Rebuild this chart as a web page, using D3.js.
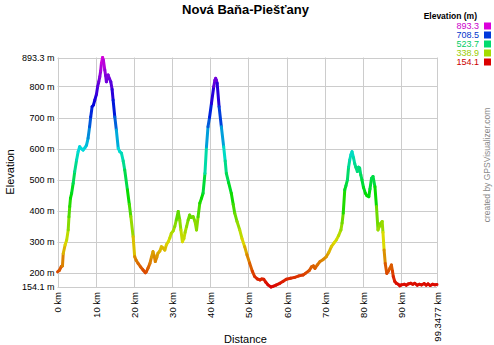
<!DOCTYPE html>
<html><head><meta charset="utf-8">
<script src="https://cdn.jsdelivr.net/npm/d3@7"></script>
<style>
body{margin:0;background:#fff;}
svg{display:block;font-family:"Liberation Sans",Arial,sans-serif;}
</style></head>
<body><svg id="c" width="494" height="345"></svg>
<script>
const title = "Nová Baňa-Piešťany";
const distKm = [0,0.5,1.0,1.3,1.5,2.0,2.4,2.8,3.0,3.2,3.4,3.7,4.1,4.5,5.0,5.4,5.8,6.2,6.7,7.2,7.6,8.0,8.4,8.7,9.06,9.4,9.76,10.2,10.5,10.8,11.07,11.3,11.5,11.8,12.0,12.38,12.6,12.8,13.0,13.25,13.6,13.95,14.3,14.56,15.0,15.4,15.9,16.3,16.75,17.2,17.6,18.3,18.8,19.2,19.8,20.2,20.6,21.1,21.8,22.4,23.0,23.3,23.7,24.2,24.6,25.0,25.3,25.6,26.0,26.3,26.8,27.2,27.6,28.1,28.5,29.0,29.4,29.8,30.3,30.7,31.1,31.6,32.0,32.3,32.7,33.1,33.4,33.8,34.2,34.6,35.0,35.5,36.0,36.4,36.8,37.25,37.7,38.1,38.6,39.0,39.4,39.8,40.3,40.9,41.2,41.4,41.6,41.8,42.3,42.9,43.5,43.9,44.2,44.8,45.5,46.0,46.4,47.0,47.7,48.3,49.0,49.6,50.3,51.0,51.6,52.3,53.0,53.5,54.0,54.5,55.1,55.9,56.4,57.2,58.2,59.0,59.9,61.0,62.1,63.2,64.3,64.9,65.9,66.5,67.0,67.4,68.0,68.7,69.5,70.4,71.0,71.7,72.4,73.0,73.6,74.2,74.5,74.8,75.2,75.5,75.9,76.2,76.5,76.8,77.1,77.5,77.8,78.1,78.5,78.8,79.1,79.4,79.7,80.1,80.6,81.0,81.5,81.8,82.2,82.6,83.1,83.5,83.9,84.3,84.6,85.0,85.2,85.5,85.8,86.2,86.6,87.0,87.4,87.7,87.9,88.3,88.7,89.2,89.6,90.0,90.8,91.3,91.8,92.5,93.0,93.5,94.2,94.7,95.3,96.0,96.5,97.0,97.6,98.2,98.8,99.3477];
const elevM = [203,208,220,222,262,290,305,338,380,413,440,456,488,525,563,590,606,600,595,603,611,633,670,702,735,740,756,775,799,815,831,850,875,893.3,885,853,835,815,830,837,825,815,790,756,702,660,601,590,585,560,531,467,420,381,316,252,240,230,218,209,200,204,215,230,250,268,255,236,250,263,270,284,280,273,290,300,312,327,335,349,370,397,370,338,300,310,330,349,370,386,378,381,365,338,380,424,440,456,520,606,670,700,745,799,820,826,820,810,735,670,606,560,520,490,456,420,392,365,338,310,284,258,231,205,188,180,177,180,179,170,161,154.1,156,160,166,172,179,182,185,190,193,198,207,219,222,214,225,236,242,252,265,284,296,306,320,338,360,392,467,480,499,540,563,580,590,570,552,540,526,540,537,515,499,475,456,448,445,470,504,510,477,413,338,350,359,365,330,273,230,198,205,214,225,205,188,172,166,163,158,161,163,160,164,166,163,166,160,163,161,165,160,164,159,163,161,162];
const yTicks = [154.1,200,300,400,500,600,700,800,893.3];
const xTicks = [0,10,20,30,40,50,60,70,80,90,99.3477];
const legendVals = [893.3,708.5,523.7,338.9,154.1];

const svg = d3.select("#c");
const L = 57.5, R = 437, T = 57.5, B = 287;
const x = d3.scaleLinear().domain([0, 99.3477]).range([L, R]);
const y = d3.scaleLinear().domain([154.1, 893.3]).range([B, T]);
const hue = d3.scaleLinear().domain([154.1, 893.3]).range([0, 300]);
const col = e => d3.hsl(hue(e), 1, 0.43).toString();
const colText = e => d3.hsl(hue(e), 1, 0.40).toString();

// title
svg.append("text").attr("x", 245.5).attr("y", 14).attr("text-anchor", "middle")
  .attr("font-size", 13).attr("font-weight", "bold").attr("fill", "#000").text(title);

// grid
const g = svg.append("g");
g.selectAll("line.h").data(yTicks).join("line")
  .attr("x1", L).attr("x2", R).attr("y1", d => Math.round(y(d)) + 0.5).attr("y2", d => Math.round(y(d)) + 0.5)
  .attr("stroke", "#cccccc").attr("stroke-width", 1);
g.selectAll("line.v").data(xTicks).join("line")
  .attr("y1", T).attr("y2", B).attr("x1", d => Math.round(x(d)) + 0.5).attr("x2", d => Math.round(x(d)) + 0.5)
  .attr("stroke", "#cccccc").attr("stroke-width", 1);

// axes
const ya = svg.append("g").attr("transform", `translate(${L},0)`)
  .call(d3.axisLeft(y).tickValues(yTicks).tickSize(0).tickPadding(3).tickFormat(d => d + " m"));
ya.select(".domain").remove();
ya.selectAll("text").attr("font-size", 9).attr("fill", "#000").attr("font-family", "Liberation Sans, Arial, sans-serif");

const xa = svg.append("g").attr("transform", `translate(0,${B})`)
  .call(d3.axisBottom(x).tickValues(xTicks).tickSize(0).tickFormat(d => d + " km"));
xa.select(".domain").remove();
xa.selectAll("text").attr("font-size", 9.5).attr("fill", "#000").attr("font-family", "Liberation Sans, Arial, sans-serif")
  .attr("text-anchor", "end").attr("transform", "rotate(-90)").attr("x", -5).attr("y", 0).attr("dy", "0.35em");

// axis titles
svg.append("text").attr("transform", "translate(14,172) rotate(-90)").attr("text-anchor", "middle")
  .attr("font-size", 11).attr("fill", "#000").text("Elevation");
svg.append("text").attr("x", 245.5).attr("y", 343).attr("text-anchor", "middle")
  .attr("font-size", 11).attr("fill", "#000").text("Distance");
svg.append("text").attr("transform", "translate(490,165) rotate(-90)").attr("text-anchor", "middle")
  .attr("font-size", 8.5).attr("fill", "#8a8a8a").text("created by GPSVisualizer.com");

// profile line, coloured by elevation
const pts = distKm.map((d, i) => [d, elevM[i]]);
const segs = d3.pairs(pts);
svg.append("g").selectAll("line").data(segs).join("line")
  .attr("x1", d => x(d[0][0])).attr("y1", d => y(d[0][1]))
  .attr("x2", d => x(d[1][0])).attr("y2", d => y(d[1][1]))
  .attr("stroke", d => col((d[0][1] + d[1][1]) / 2))
  .attr("stroke-width", 3).attr("stroke-linecap", "round");

// legend
const lg = svg.append("g");
lg.append("text").attr("x", 477).attr("y", 19).attr("text-anchor", "end")
  .attr("font-size", 8.5).attr("font-weight", "bold").attr("fill", "#000").text("Elevation (m)");
const ly = d3.scalePoint().domain(legendVals).range([26, 62]);
lg.selectAll("text.v").data(legendVals).join("text")
  .attr("x", 479).attr("y", d => ly(d)).attr("dy", "0.35em").attr("text-anchor", "end")
  .attr("font-size", 9).attr("fill", d => colText(d)).text(d => d.toFixed(1));
lg.selectAll("rect").data(legendVals).join("rect")
  .attr("x", 484).attr("y", d => ly(d) - 3.5).attr("width", 7).attr("height", 7)
  .attr("fill", d => col(d));
</script></body></html>
